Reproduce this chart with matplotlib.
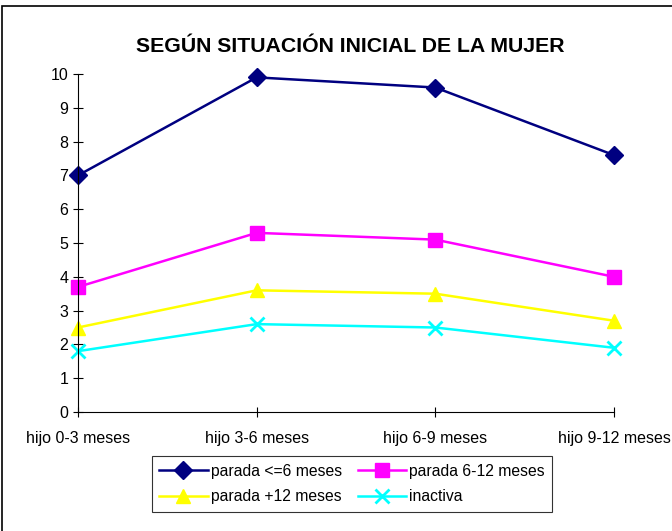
import matplotlib.pyplot as plt
from matplotlib.patches import Rectangle

plt.rcParams['font.family'] = ['Liberation Sans', 'DejaVu Sans']

categorias = ['hijo 0-3 meses', 'hijo 3-6 meses', 'hijo 6-9 meses', 'hijo 9-12 meses']
parada_6 = [7.0, 9.9, 9.6, 7.6]
parada_6_12 = [3.7, 5.3, 5.1, 4.0]
parada_12 = [2.5, 3.6, 3.5, 2.7]
inactiva = [1.8, 2.6, 2.5, 1.9]

series = [
    ('parada <=6 meses', parada_6, '#000080', 'D', 9.5),
    ('parada 6-12 meses', parada_6_12, '#FF00FF', 's', 10),
    ('parada +12 meses', parada_12, '#FFFF00', '^', 10.5),
    ('inactiva', inactiva, '#00FFFF', 'x', 9.5),
]

fig = plt.figure(figsize=(6.72, 5.31), dpi=100)
ax = fig.add_axes([78 / 672, 1 - 412 / 531, (614 - 78) / 672, (412 - 74) / 531])

x = list(range(len(categorias)))
lineas = {}
for nombre, valores, color, marcador, ms in series:
    ln, = ax.plot(x, valores, color=color, marker=marcador, markersize=ms, linewidth=1.8,
                  markeredgewidth=2 if marcador == 'x' else 1, label=nombre, clip_on=False)
    lineas[nombre] = ln

ax.set_xlim(0, len(categorias) - 1)
ax.set_ylim(0, 10)
ax.set_yticks(range(0, 11))
ax.set_xticks(x)
ax.set_xticklabels(categorias)
ax.tick_params(axis='both', direction='inout', length=7, width=0.8, labelsize=11.5)
ax.tick_params(axis='x', pad=10)
ax.spines['top'].set_visible(False)
ax.spines['right'].set_visible(False)
for s in ('left', 'bottom'):
    ax.spines[s].set_linewidth(0.8)

fig.text(350 / 672, 1 - 46 / 531, 'SEGÚN SITUACIÓN INICIAL DE LA MUJER',
         ha='center', va='center', fontsize=15.3, fontweight='bold')

# matplotlib llena la leyenda por columnas: reordenar para que salga por filas
orden = ['parada <=6 meses', 'parada +12 meses', 'parada 6-12 meses', 'inactiva']
leg = fig.legend([lineas[n] for n in orden], orden, loc='center',
                 bbox_to_anchor=(352 / 672, 1 - 484 / 531), ncol=2,
                 frameon=True, fancybox=False, fontsize=11.3, handlelength=3.1,
                 columnspacing=1.0, handletextpad=0.2, borderpad=0.45, labelspacing=0.7)
leg.get_frame().set_edgecolor('black')
leg.get_frame().set_linewidth(0.8)

fig.patches.append(Rectangle((2 / 672, -0.05), 1.1, 1.05 - 6 / 531,
                             transform=fig.transFigure, fill=False, edgecolor='black', linewidth=1.2))

fig.savefig('out.png', dpi=100)
